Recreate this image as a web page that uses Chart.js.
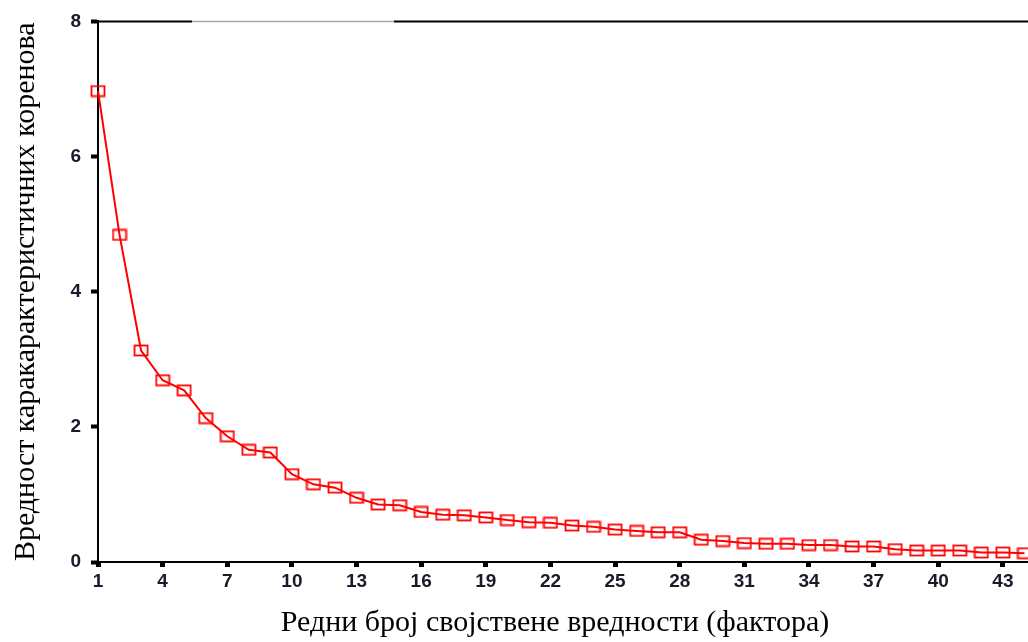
<!DOCTYPE html>
<html>
<head>
<meta charset="utf-8">
<script src="https://cdn.jsdelivr.net/npm/chart.js@4.4.1/dist/chart.umd.min.js"></script>
<style>
  html, body { margin: 0; padding: 0; background: #fff; overflow: hidden; }
  #wrap { position: relative; width: 1110px; height: 642px; }
</style>
</head>
<body>
<div id="wrap"><canvas id="scree" width="1110" height="642"></canvas></div>
<script>
// Data
const factorNumbers = [1, 2, 3, 4, 5, 6, 7, 8, 9, 10, 11, 12, 13, 14, 15, 16, 17, 18, 19, 20, 21, 22,
  23, 24, 25, 26, 27, 28, 29, 30, 31, 32, 33, 34, 35, 36, 37, 38, 39, 40, 41, 42, 43, 44];
const eigenValues = [6.97, 4.84, 3.13, 2.69, 2.54, 2.13, 1.86, 1.66, 1.62, 1.30, 1.15, 1.10, 0.95, 0.85,
  0.84, 0.74, 0.70, 0.69, 0.66, 0.62, 0.59, 0.58, 0.54, 0.52, 0.48, 0.46, 0.44, 0.44, 0.33, 0.31,
  0.28, 0.27, 0.27, 0.25, 0.25, 0.23, 0.23, 0.19, 0.17, 0.17, 0.17, 0.14, 0.14, 0.13];
const xTickValues = [1, 4, 7, 10, 13, 16, 19, 22, 25, 28, 31, 34, 37, 40, 43];
const yTickValues = [0, 2, 4, 6, 8];
const xTitle = "Редни број својствене вредности (фактора)";
const yTitle = "Вредност каракарактеристичних коренова";

const serif = "'Liberation Serif', 'Times New Roman', serif";
const sans = "'Liberation Sans', Arial, sans-serif";

// hollow red box marker, a bit wider than tall
function makeBox() {
  const c = document.createElement('canvas');
  c.width = 16;
  c.height = 13;
  const g = c.getContext('2d');
  g.strokeStyle = '#ff0000';
  g.lineWidth = 1.8;
  g.strokeRect(1.5, 1.5, 13, 10);
  return c;
}

// top frame line (black with a faded gray piece like the original)
const topEdge = {
  id: 'topEdge',
  afterDraw(chart) {
    const { ctx, chartArea: a } = chart;
    ctx.save();
    ctx.lineWidth = 2;
    ctx.strokeStyle = '#000';
    ctx.beginPath();
    ctx.moveTo(a.left - 1, a.top);
    ctx.lineTo(a.left + 94, a.top);
    ctx.moveTo(a.left + 296, a.top);
    ctx.lineTo(a.right, a.top);
    ctx.stroke();
    ctx.lineWidth = 1.5;
    ctx.strokeStyle = '#a8a8a8';
    ctx.beginPath();
    ctx.moveTo(a.left + 94, a.top);
    ctx.lineTo(a.left + 296, a.top);
    ctx.stroke();
    ctx.restore();
  }
};

const box = makeBox();

new Chart(document.getElementById('scree'), {
  type: 'line',
  data: {
    datasets: [{
      data: factorNumbers.map((f, i) => ({ x: f, y: eigenValues[i] })),
      borderColor: '#ff0000',
      borderWidth: 2,
      tension: 0,
      fill: false,
      pointStyle: box,
      pointRadius: 6,
      clip: false
    }]
  },
  options: {
    responsive: false,
    animation: false,
    layout: { padding: { left: 0, right: 0, top: 18, bottom: 0 } },
    plugins: {
      legend: { display: false },
      tooltip: { enabled: false },
      title: {
        display: true,
        text: xTitle,
        position: 'bottom',
        color: '#000',
        font: { family: serif, size: 30, weight: 'normal' },
        padding: { top: 11, bottom: 1 }
      }
    },
    scales: {
      x: {
        type: 'linear',
        min: 1,
        max: 47.6,
        afterBuildTicks: s => { s.ticks = xTickValues.map(v => ({ value: v })); },
        afterFit: s => { s.height = 32; },
        grid: { drawOnChartArea: false, drawTicks: true, tickLength: 5, tickWidth: 5, tickColor: '#000' },
        border: { display: true, color: '#000', width: 2 },
        ticks: { color: '#1a1a2a', font: { family: sans, size: 19, weight: 'bold' }, padding: 3, maxRotation: 0, autoSkip: false }
      },
      y: {
        min: 0,
        max: 8,
        afterBuildTicks: s => { s.ticks = yTickValues.map(v => ({ value: v })); },
        afterFit: s => { s.width = 98; },
        grid: { drawOnChartArea: false, drawTicks: true, tickLength: 7, tickWidth: 4, tickColor: '#000' },
        border: { display: true, color: '#000', width: 2 },
        ticks: { color: '#1a1a2a', font: { family: sans, size: 19, weight: 'bold' }, padding: 10 },
        title: {
          display: true,
          text: yTitle,
          color: '#000',
          font: { family: serif, size: 30, weight: 'normal' },
          padding: { top: 8, bottom: 0 }
        }
      }
    }
  },
  plugins: [topEdge]
});
</script>
</body>
</html>
